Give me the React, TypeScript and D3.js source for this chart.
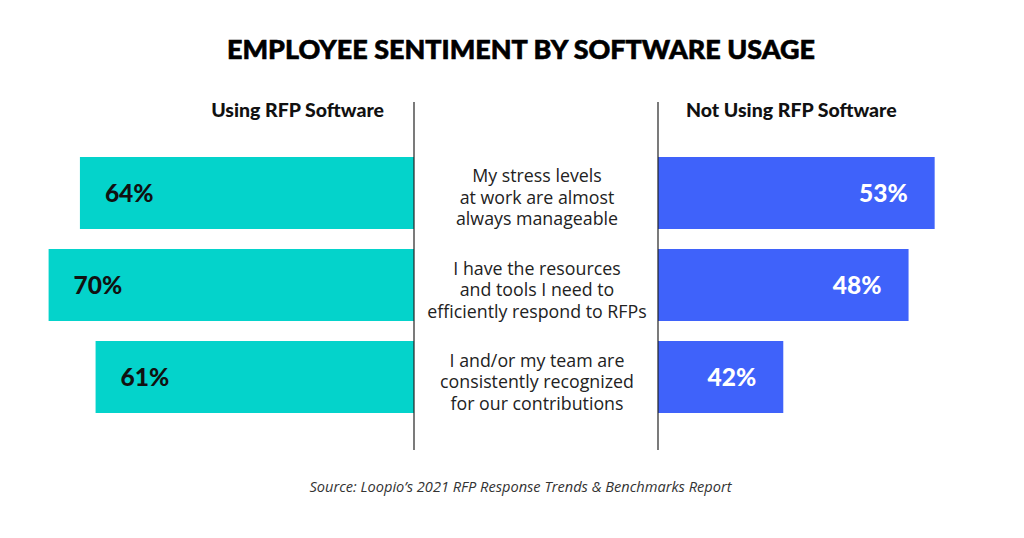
import React from "react";
import * as d3 from "d3";

const categories = [
  ["My stress levels", "at work are almost", "always manageable"],
  ["I have the resources", "and tools I need to", "efficiently respond to RFPs"],
  ["I and/or my team are", "consistently recognized", "for our contributions"],
];
const usingValues = [64, 70, 61];
const notUsingValues = [53, 48, 42];
// Bar extents as drawn in the reference (the 42% bar is drawn shorter than its label)
const notUsingBarExtents = [53, 48, 24];
const groupLabels = ["Using RFP Software", "Not Using RFP Software"];
const title = "EMPLOYEE SENTIMENT BY SOFTWARE USAGE";
const source = "Source: Loopio’s 2021 RFP Response Trends & Benchmarks Report";

const W = 1024;
const H = 538;
const leftAxis = 414;
const rightAxis = 658;
const teal = "#04D3CB";
const blue = "#3F62FA";

export default function App() {
  const len = d3.scaleLinear().domain([0, 100]).range([0, 522]);
  const y = d3
    .scaleBand<number>()
    .domain(d3.range(categories.length))
    .range([157, 413])
    .paddingInner(0.2174)
    .paddingOuter(0);
  const bw = y.bandwidth();
  const fontBold = "Lato, 'Noto Sans', sans-serif";
  const fontText = "'Open Sans', Lato, sans-serif";
  return (
    <svg
      width={W}
      height={H}
      style={{ position: "absolute", left: 0, top: 0, background: "#fff" }}
    >
      <text
        x={521}
        y={59}
        textAnchor="middle"
        fontFamily={fontBold}
        fontWeight={900}
        fontSize={27}
        fill="#000"
        stroke="#000"
        strokeWidth={0.6}
        textLength={588}
        lengthAdjust="spacingAndGlyphs"
      >
        {title}
      </text>
      <text
        x={384}
        y={117}
        textAnchor="end"
        fontFamily={fontBold}
        fontWeight={900}
        fontSize={19.5}
        fill="#111"
      >
        {groupLabels[0]}
      </text>
      <text
        x={686}
        y={117}
        textAnchor="start"
        fontFamily={fontBold}
        fontWeight={900}
        fontSize={19.5}
        fill="#111"
      >
        {groupLabels[1]}
      </text>
      {usingValues.map((v, i) => {
        const y0 = y(i) as number;
        const cy = y0 + bw / 2;
        return (
          <g key={"l" + i}>
            <rect x={leftAxis - len(v)} y={y0} width={len(v)} height={bw} fill={teal} />
            <text
              x={leftAxis - len(v) + 25}
              y={cy + 9}
              fontFamily={fontBold}
              fontWeight={900}
              fontSize={24.5}
              fill="#111"
            >
              {v}%
            </text>
          </g>
        );
      })}
      {notUsingValues.map((v, i) => {
        const y0 = y(i) as number;
        const cy = y0 + bw / 2;
        const w = len(notUsingBarExtents[i]);
        return (
          <g key={"r" + i}>
            <rect x={rightAxis} y={y0} width={w} height={bw} fill={blue} />
            <text
              x={rightAxis + w - 27}
              y={cy + 9}
              textAnchor="end"
              fontFamily={fontBold}
              fontWeight={900}
              fontSize={24.5}
              fill="#fff"
            >
              {v}%
            </text>
          </g>
        );
      })}
      {categories.map((lines, i) => {
        const cy = (y(i) as number) + bw / 2;
        return (
          <text
            key={"c" + i}
            x={537}
            textAnchor="middle"
            fontFamily={fontText}
            fontSize={17.8}
            fill="#222"
          >
            {lines.map((t, j) => (
              <tspan key={j} x={537} y={cy - 10.5 + j * 21.5}>
                {t}
              </tspan>
            ))}
          </text>
        );
      })}
      <line x1={leftAxis} x2={leftAxis} y1={102} y2={450} stroke="#222" strokeWidth={1.2} />
      <line x1={rightAxis} x2={rightAxis} y1={102} y2={450} stroke="#222" strokeWidth={1.2} />
      <text
        x={520.5}
        y={492}
        textAnchor="middle"
        fontFamily={fontText}
        fontStyle="italic"
        fontSize={14.6}
        fill="#333"
      >
        {source}
      </text>
    </svg>
  );
}
